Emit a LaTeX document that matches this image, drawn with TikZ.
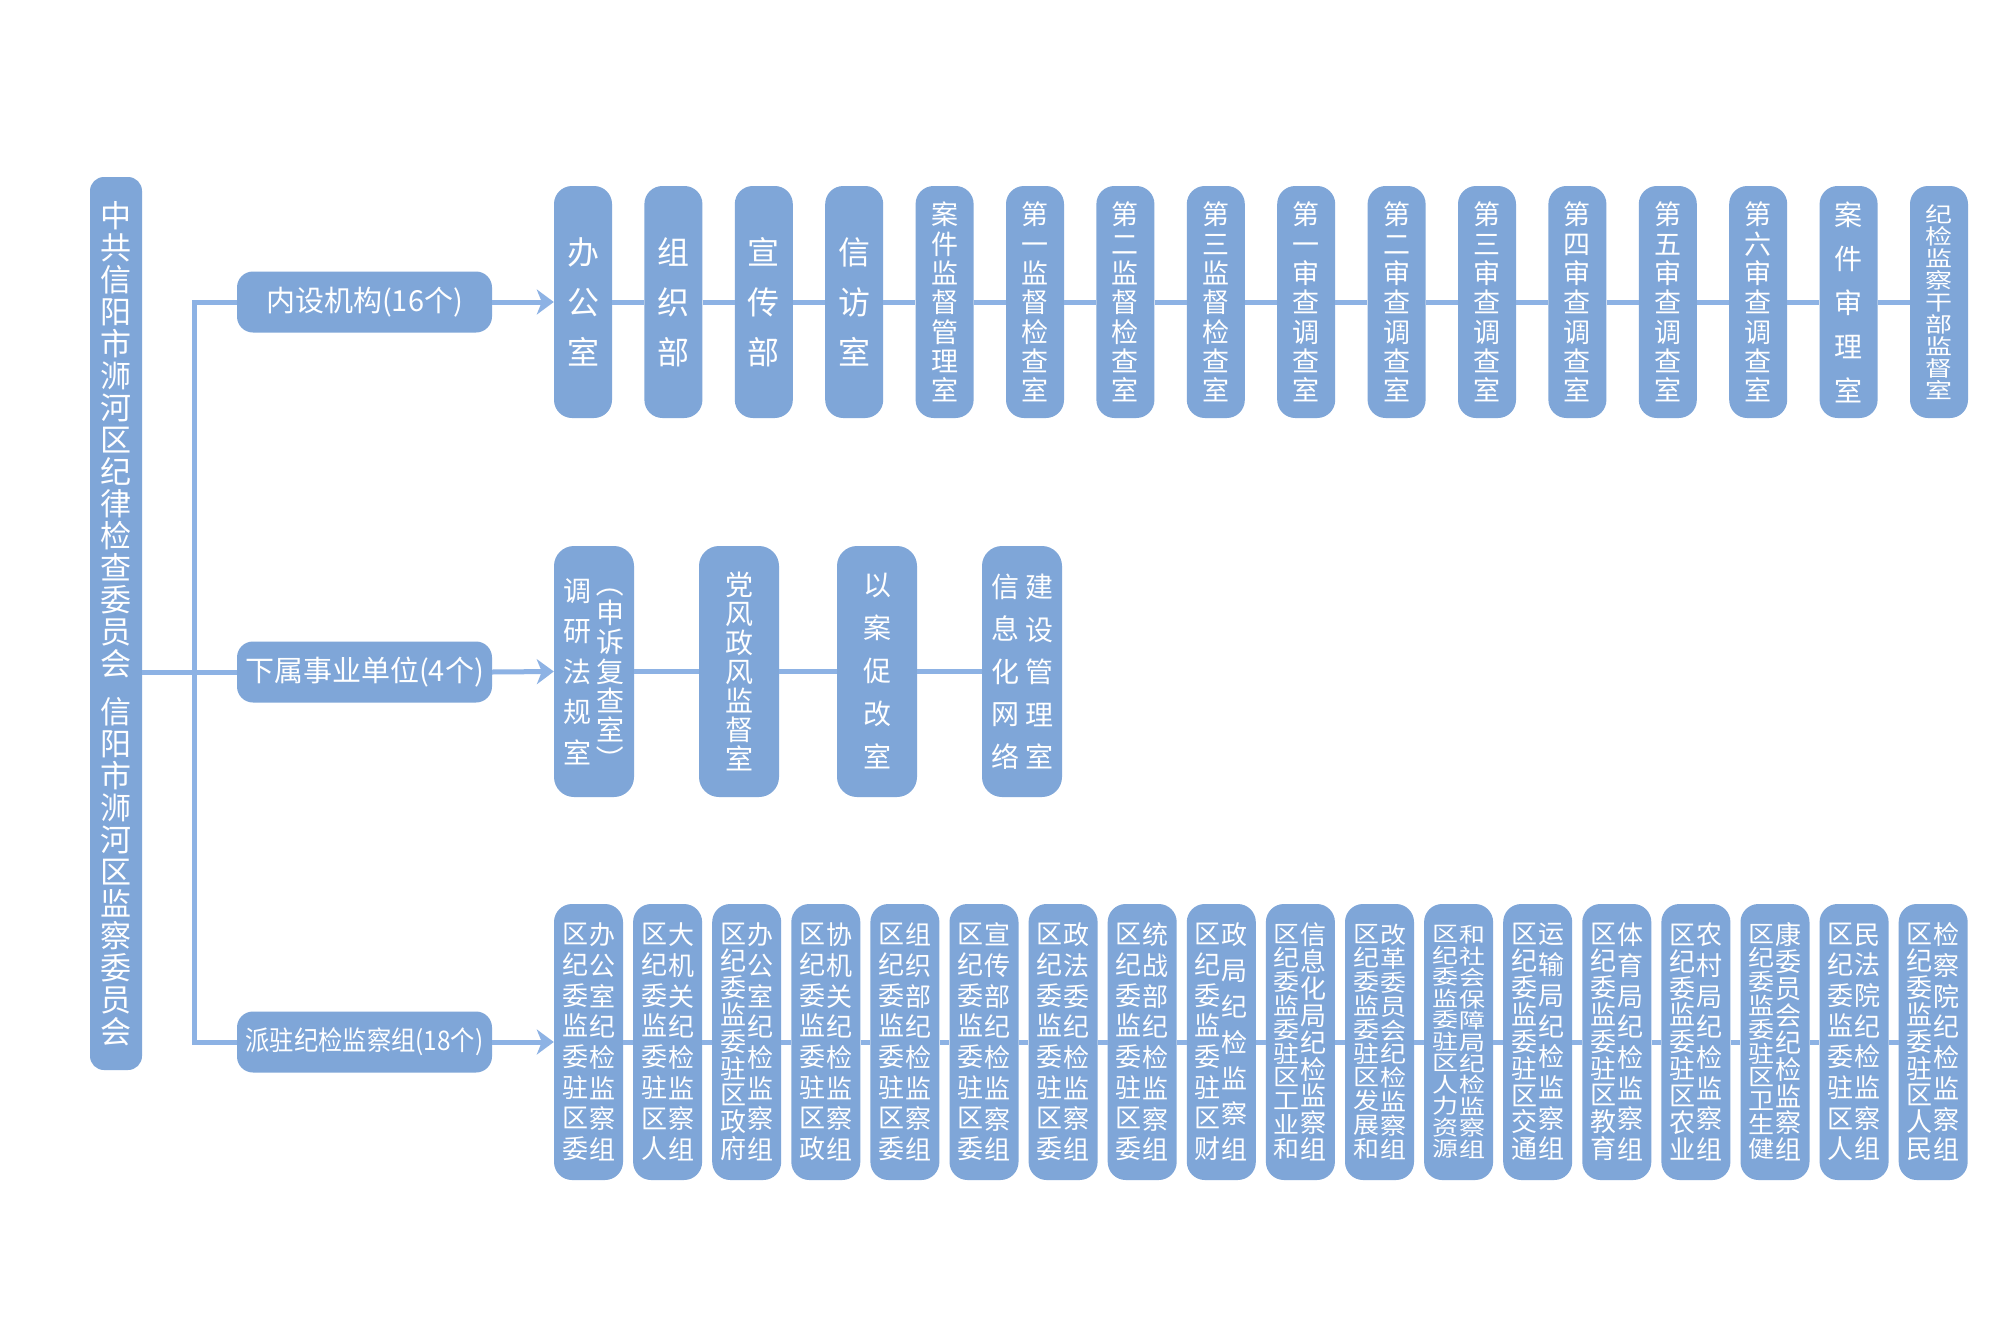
\documentclass[tikz,border=0pt]{standalone}
\usepackage{fontspec}
\setmainfont{Noto Sans CJK SC}
\usepackage{graphicx}
\usetikzlibrary{arrows.meta}
\definecolor{boxC}{RGB}{127,166,216}
\definecolor{lineC}{RGB}{141,178,228}
\ExplSyntaxOn
\NewDocumentCommand\vcolraw{mmmm}{
  $\vcenter{\hbox{\scalebox{1}[#3]{\fontsize{#1}{#2}\selectfont
   \vbox{\baselineskip=#2\relax\lineskiplimit=-\maxdimen
   \halign{\hfil##\hfil\cr#4\crcr}}}}}$
}
\NewDocumentCommand\vcol{mmmm}{
  \tl_clear:N \l_tmpa_tl
  \tl_map_inline:nn {#4} { \tl_put_right:Nn \l_tmpa_tl {##1\cr} }
  \vcolraw{#1}{#2}{#3}{\l_tmpa_tl}
}
\ExplSyntaxOff
\newcommand\vparL{\rotatebox[origin=c]{-90}{（}}
\newcommand\vparR{\rotatebox[origin=c]{-90}{）}}
\begin{document}
\begin{tikzpicture}[x=1pt,y=-1pt,
  every node/.style={text=white,inner sep=0pt,fill=boxC},
  rootbox/.style={minimum width=52pt,minimum height=893pt,rounded corners=14pt},
  lbox/.style={minimum width=255pt,minimum height=61pt,rounded corners=16pt,font=\fontsize{29pt}{30pt}\selectfont},
  tbox/.style={minimum width=58pt,minimum height=232pt,rounded corners=18pt},
  mbox/.style={minimum width=80pt,minimum height=251pt,rounded corners=20pt},
  bbox/.style={minimum width=69pt,minimum height=276pt,rounded corners=18pt},
  conn/.style={draw=lineC,line width=5pt,line join=miter},
  arr/.style={conn,-{Stealth[length=17pt,width=25pt,inset=5pt]}}]
\fill[white] (0,0) rectangle (2000,1333);
\useasboundingbox (0,0) rectangle (2000,1333);
% root
\node[rootbox] (root) at (116,623.5) {\vcolraw{31pt}{32pt}{1}{中\cr 共\cr 信\cr 阳\cr 市\cr 浉\cr 河\cr 区\cr 纪\cr 律\cr 检\cr 查\cr 委\cr 员\cr 会\cr \noalign{\kern16pt}信\cr 阳\cr 市\cr 浉\cr 河\cr 区\cr 监\cr 察\cr 委\cr 员\cr 会}};
% category labels
\node[lbox] (L1) at (364.5,302) {内设机构(16个)};
\node[lbox] (L2) at (364.5,672) {下属事业单位(4个)};
\node[lbox] (L3) at (364.5,1042) {\fontsize{27pt}{28pt}\selectfont\scalebox{0.9}[1]{派驻纪检监察组(18个)}};
% top row
\node[tbox] (t1) at (583,302) {\vcol{32pt}{50pt}{1}{办公室}};
\node[tbox] (t2) at (673.4,302) {\vcol{32pt}{50pt}{1}{组织部}};
\node[tbox] (t3) at (763.8,302) {\vcol{32pt}{50pt}{1}{宣传部}};
\node[tbox] (t4) at (854.2,302) {\vcol{32pt}{50pt}{1}{信访室}};
\node[tbox] (t5) at (944.6,302) {\vcol{27pt}{29.33pt}{1}{案件监督管理室}};
\node[tbox] (t6) at (1035,302) {\vcol{27pt}{29.33pt}{1}{第一监督检查室}};
\node[tbox] (t7) at (1125.4,302) {\vcol{27pt}{29.33pt}{1}{第二监督检查室}};
\node[tbox] (t8) at (1215.8,302) {\vcol{27pt}{29.33pt}{1}{第三监督检查室}};
\node[tbox] (t9) at (1306.2,302) {\vcol{27pt}{29.33pt}{1}{第一审查调查室}};
\node[tbox] (t10) at (1396.6,302) {\vcol{27pt}{29.33pt}{1}{第二审查调查室}};
\node[tbox] (t11) at (1487,302) {\vcol{27pt}{29.33pt}{1}{第三审查调查室}};
\node[tbox] (t12) at (1577.4,302) {\vcol{27pt}{29.33pt}{1}{第四审查调查室}};
\node[tbox] (t13) at (1667.8,302) {\vcol{27pt}{29.33pt}{1}{第五审查调查室}};
\node[tbox] (t14) at (1758.2,302) {\vcol{27pt}{29.33pt}{1}{第六审查调查室}};
\node[tbox] (t15) at (1848.6,302) {\vcol{28pt}{44pt}{1}{案件审理室}};
\node[tbox] (t16) at (1939,302) {\vcol{27pt}{28pt}{0.786}{纪检监察干部监督室}};
% middle row
\node[mbox] (m1) at (594,671.5) {\vcol{28pt}{40.5pt}{1}{调研法规室}\hspace{5pt}\vcol{28pt}{29.2pt}{1}{{\vparL}申诉复查室{\vparR}}};
\node[mbox] (m2) at (739,671.5) {\vcol{28pt}{29pt}{1}{党风政风监督室}};
\node[mbox] (m3) at (877,671.5) {\vcol{28pt}{43pt}{1}{以案促改室}};
\node[mbox] (m4) at (1022,671.5) {\vcol{28pt}{42.5pt}{1}{信息化网络}\hspace{6pt}\vcol{28pt}{42.5pt}{1}{建设管理室}};
% bottom row
\def\cA{\vcol{26pt}{30.71pt}{1}}% 8 chars
\def\cB{\vcol{26pt}{26.88pt}{1}}% 9 chars
\def\cC{\vcol{26pt}{27pt}{0.885}}% 10 chars
\def\cD{\vcol{26pt}{27pt}{0.796}}% 11 chars
\def\cE{\vcol{26pt}{35.83pt}{1}}% 7 chars
\def\g{\hspace{1pt}}
\node[bbox] (b1) at (588.5,1042) {\cA{区纪委监委驻区委}\g\cA{办公室纪检监察组}};
\node[bbox] (b2) at (667.6,1042) {\cA{区纪委监委驻区人}\g\cA{大机关纪检监察组}};
\node[bbox] (b3) at (746.7,1042) {\cB{区纪委监委驻区政府}\g\cA{办公室纪检监察组}};
\node[bbox] (b4) at (825.8,1042) {\cA{区纪委监委驻区政}\g\cA{协机关纪检监察组}};
\node[bbox] (b5) at (904.9,1042) {\cA{区纪委监委驻区委}\g\cA{组织部纪检监察组}};
\node[bbox] (b6) at (984,1042) {\cA{区纪委监委驻区委}\g\cA{宣传部纪检监察组}};
\node[bbox] (b7) at (1063.1,1042) {\cA{区纪委监委驻区委}\g\cA{政法委纪检监察组}};
\node[bbox] (b8) at (1142.2,1042) {\cA{区纪委监委驻区委}\g\cA{统战部纪检监察组}};
\node[bbox] (b9) at (1221.3,1042) {\cA{区纪委监委驻区财}\g\cE{政局纪检监察组}};
\node[bbox] (b10) at (1300.4,1042) {\cC{区纪委监委驻区工业和}\g\cB{信息化局纪检监察组}};
\node[bbox] (b11) at (1379.5,1042) {\cC{区纪委监委驻区发展和}\g\cC{改革委员会纪检监察组}};
\node[bbox] (b12) at (1458.6,1042) {\cD{区纪委监委驻区人力资源}\g\cD{和社会保障局纪检监察组}};
\node[bbox] (b13) at (1537.7,1042) {\cB{区纪委监委驻区交通}\g\cA{运输局纪检监察组}};
\node[bbox] (b14) at (1616.8,1042) {\cB{区纪委监委驻区教育}\g\cA{体育局纪检监察组}};
\node[bbox] (b15) at (1695.9,1042) {\cB{区纪委监委驻区农业}\g\cA{农村局纪检监察组}};
\node[bbox] (b16) at (1775,1042) {\cC{区纪委监委驻区卫生健}\g\cB{康委员会纪检监察组}};
\node[bbox] (b17) at (1854.1,1042) {\cA{区纪委监委驻区人}\g\cA{民法院纪检监察组}};
\node[bbox] (b18) at (1933.2,1042) {\cB{区纪委监委驻区人民}\g\cA{检察院纪检监察组}};
% trunk
\coordinate (tTop) at (194,302);
\coordinate (tBot) at (194,1042);
\draw[conn] (L1.west) -- (tTop) -- (tBot) -- (L3.west);
\draw[conn] (root.east |- L2.west) -- (L2.west);
% arrows into rows
\draw[arr] (L1.east) -- (t1.west);
\draw[arr] (L2.east) -- (m1.west);
\draw[arr] (L3.east) -- (b1.west);
% chains
\foreach \i in {1,...,15}{\pgfmathtruncatemacro\j{\i+1}\draw[conn] (t\i.east) -- (t\j.west);}
\foreach \i in {1,...,3}{\pgfmathtruncatemacro\j{\i+1}\draw[conn] (m\i.east) -- (m\j.west);}
\foreach \i in {1,...,17}{\pgfmathtruncatemacro\j{\i+1}\draw[conn] (b\i.east) -- (b\j.west);}
\end{tikzpicture}
\end{document}
